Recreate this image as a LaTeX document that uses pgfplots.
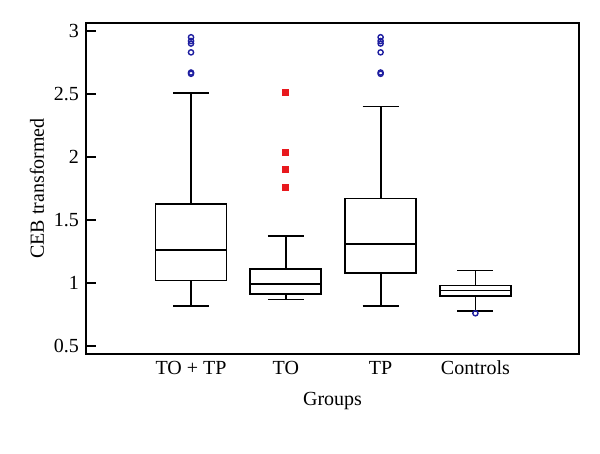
\documentclass[border=0pt]{standalone}
\usepackage{fontspec}
\setmainfont{Liberation Serif}
\usepackage{pgfplots}
\pgfplotsset{compat=1.18}
\usepgfplotslibrary{statistics}
\definecolor{outblue}{RGB}{30,30,160}
\definecolor{outred}{RGB}{232,25,30}
\begin{document}
\begin{tikzpicture}[x=1pt,y=1pt]
\path[use as bounding box] (-43,-50) rectangle (257,177);
\begin{axis}[
  at={(0,0)}, anchor=south west, scale only axis,
  width=246.5pt, height=165.5pt,
  xmin=-1.108, xmax=4.093, ymin=0.437, ymax=3.063,
  ytick={0.5,1,1.5,2,2.5,3},
  xtick={0,1,2,3}, xticklabels={TO + TP, TO, TP, Controls},
  xtick style={draw=none},
  tick pos=left, tick align=inside,
  major tick length=5pt,
  tick style={black, line width=0.9pt},
  axis line style={line width=0.9pt},
  tick label style={font=\fontsize{10}{12}\selectfont},
  /pgf/number format/assume math mode=true,
  label style={font=\fontsize{10}{12}\selectfont},
  xlabel={Groups}, ylabel={CEB transformed},
  xlabel style={at={(axis description cs:0.5,-0.142)}, anchor=center},
  ylabel style={at={(axis description cs:-0.0994,0.5)}, anchor=center},
  boxplot/draw direction=y,
  boxplot/box extend=0.75,
  boxplot/whisker extend=0.38,
]
\addplot[black, line width=0.9pt, solid, boxplot prepared={draw position=0,
  lower whisker=0.82, lower quartile=1.02, median=1.26, upper quartile=1.63, upper whisker=2.51}]
  coordinates {};
\addplot[black, line width=0.9pt, solid, boxplot prepared={draw position=1,
  lower whisker=0.87, lower quartile=0.91, median=0.99, upper quartile=1.11, upper whisker=1.37}]
  coordinates {};
\addplot[black, line width=0.9pt, solid, boxplot prepared={draw position=2,
  lower whisker=0.82, lower quartile=1.08, median=1.31, upper quartile=1.67, upper whisker=2.40}]
  coordinates {};
\addplot[black, line width=0.9pt, solid, boxplot prepared={draw position=3,
  lower whisker=0.78, lower quartile=0.90, median=0.94, upper quartile=0.98, upper whisker=1.10}]
  coordinates {};
% outliers
\addplot[only marks, mark=o, mark size=1.3pt, outblue, line width=0.7pt]
  coordinates {(0,2.66) (0,2.67) (0,2.83) (0,2.90) (0,2.92) (0,2.95)
               (2,2.66) (2,2.67) (2,2.83) (2,2.90) (2,2.92) (2,2.95)
               (3,0.76)};
\addplot[only marks, mark=square*, mark size=1.5pt, outred, draw=outred]
  coordinates {(1,1.76) (1,1.90) (1,2.04) (1,2.51)};
\end{axis}
\end{tikzpicture}
\end{document}
